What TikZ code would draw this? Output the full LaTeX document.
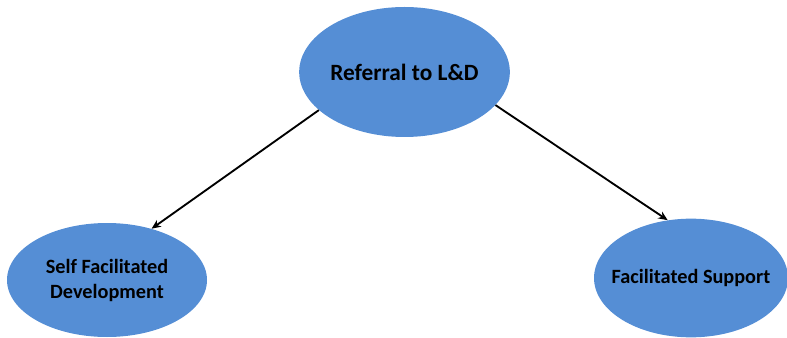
\documentclass[tikz,border=0pt]{standalone}
\usepackage{fontspec}
\setmainfont{Carlito}
\usepackage{tikz}
\usetikzlibrary{arrows.meta,positioning,shapes.geometric}
\definecolor{bubblefill}{HTML}{558ED5}

\begin{document}
\begin{tikzpicture}[
  x=0.75pt, y=-0.75pt,
  bubble/.style={draw=none, ellipse, inner sep=-20pt, align=center, font=\fontsize{15.2}{18.75}\selectfont\bfseries, fill=bubblefill},
  arr/.style={-{Stealth[length=7pt,width=6pt]}, line width=1.4pt, black}
]
  \useasboundingbox (0,0) rectangle (787,338);
  \node[bubble, minimum width=158pt, minimum height=97.5pt, font=\fontsize{17.5}{20}\selectfont\bfseries] (referral) at (404.5,72) {Referral to L\&D};
  \node[bubble, minimum width=150pt, minimum height=85.5pt] (self) at (107,280) {Self Facilitated\\Development};
  \node[bubble, minimum width=145.5pt, minimum height=89pt] (support) at (691,278) {Facilitated Support};

  \draw[arr] (referral.204) -- (self.49);
  \draw[arr] (referral.340) -- (support.112);
\end{tikzpicture}
\end{document}
